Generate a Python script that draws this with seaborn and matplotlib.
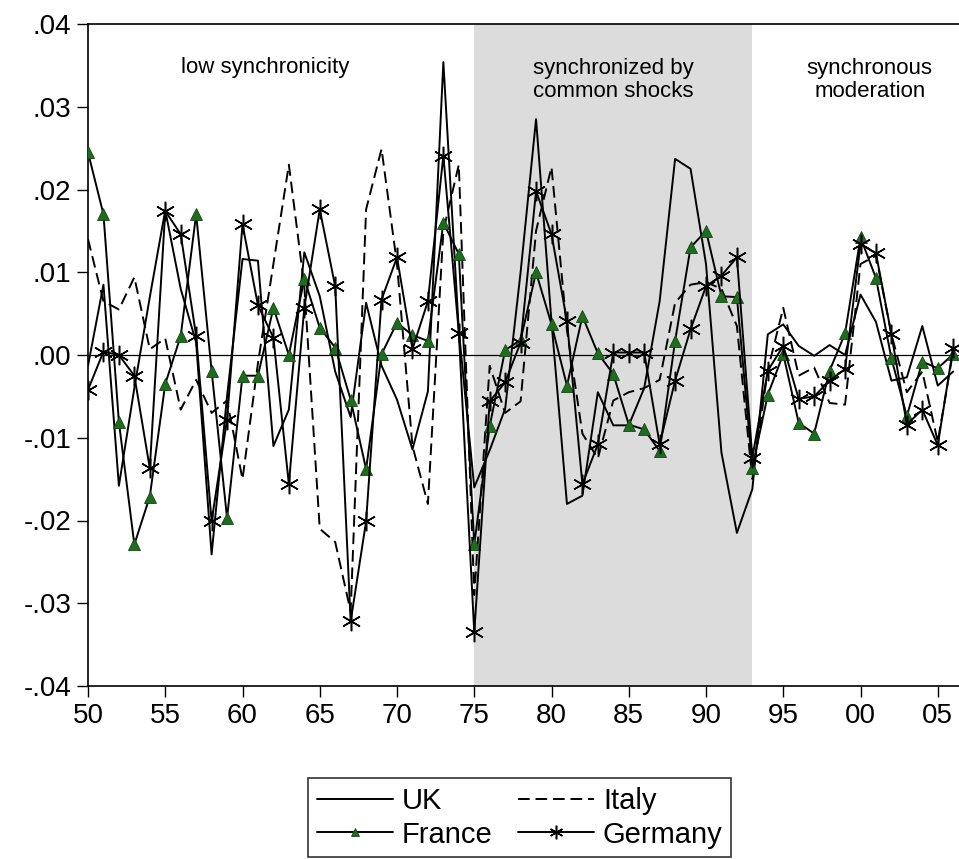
import matplotlib
matplotlib.use("Agg")
import matplotlib.pyplot as plt
import seaborn as sns
import pandas as pd
import numpy as np

years = list(range(1950, 2007))

uk = [-0.0013, 0.0085, -0.0158, -0.004, 0.007, 0.0175, 0.008, 0.0015, -0.0241, -0.005,
      0.0116, 0.0114, -0.011, -0.0066, 0.0124, 0.0071, -0.002, -0.0075, 0.0063, -0.0013,
      -0.0054, -0.0114, -0.0044, 0.0354, 0.003, -0.016, -0.0115, -0.0065, 0.010, 0.0285,
      0.004, -0.018, -0.017, -0.0045, -0.0085, -0.0085, -0.004, 0.0065, 0.0237, 0.0225,
      0.011, -0.0118, -0.0215, -0.0162, 0.0025, 0.0037, 0.0011, -0.0001, 0.0012, 0.0,
      0.0073, 0.004, -0.0031, -0.0027, 0.0035, -0.0037, -0.002]

italy = [0.014, 0.0065, 0.0055, 0.0094, 0.0007, 0.002, -0.0066, -0.003, -0.007, -0.0055,
         -0.015, -0.001, 0.011, 0.023, 0.0083, -0.021, -0.0226, -0.031, 0.0176, 0.0249,
         0.011, -0.011, -0.018, 0.015, 0.023, -0.029, -0.0013, -0.007, -0.0056, 0.015,
         0.0227, 0.003, -0.0095, -0.0125, -0.0055, -0.0045, -0.004, -0.003, 0.0063, 0.0085,
         0.0088, 0.008, 0.0035, -0.015, -0.0018, 0.0057, -0.0025, -0.0015, -0.0058, -0.006,
         0.011, 0.012, 0.0025, -0.0045, -0.002, -0.0105, 0.0005]

france = [0.0245, 0.017, -0.0081, -0.0229, -0.0171, -0.0035, 0.0023, 0.017, -0.0019, -0.0197,
          -0.0025, -0.0025, 0.0057, 0.0, 0.0092, 0.0033, 0.0009, -0.0054, -0.0138, 0.0001,
          0.0039, 0.0024, 0.0017, 0.016, 0.0122, -0.0229, -0.0086, 0.0006, 0.0018, 0.010,
          0.0037, -0.0037, 0.0047, 0.0002, -0.0023, -0.0084, -0.009, -0.0116, 0.0017, 0.013,
          0.015, 0.0071, 0.007, -0.0136, -0.0048, 0.0001, -0.0082, -0.0095, -0.0019, 0.0026,
          0.0142, 0.0093, -0.0004, -0.0074, -0.0008, -0.0016, 0.0001]

germany = [-0.0042, 0.0004, 0.0, -0.0025, -0.0137, 0.0174, 0.0146, 0.0023, -0.0201, -0.0078,
           0.0158, 0.006, 0.0021, -0.0156, 0.0057, 0.0176, 0.0083, -0.0322, -0.0201, 0.0067,
           0.0118, 0.0007, 0.0065, 0.0241, 0.0027, -0.0335, -0.0056, -0.0033, 0.0015, 0.0198,
           0.0146, 0.0041, -0.0156, -0.0108, 0.0003, 0.0003, 0.0003, -0.0108, -0.0031, 0.0031,
           0.0083, 0.0096, 0.0118, -0.0124, -0.0019, 0.0011, -0.0053, -0.005, -0.0031, -0.0017,
           0.0134, 0.0123, 0.0025, -0.0084, -0.0066, -0.0109, 0.0009]

xtick_years = list(range(1950, 2006, 5))
xtick_labels = ["50", "55", "60", "65", "70", "75", "80", "85", "90", "95", "00", "05"]
ytick_vals = [0.04, 0.03, 0.02, 0.01, 0.0, -0.01, -0.02, -0.03, -0.04]
ytick_labels = [".04", ".03", ".02", ".01", ".00", "-.01", "-.02", "-.03", "-.04"]

sns.set_style("white")
plt.rcParams['font.family'] = ['Liberation Sans', 'DejaVu Sans']
plt.rcParams['text.color'] = 'black'
plt.rcParams['xtick.color'] = 'black'
plt.rcParams['ytick.color'] = 'black'

fig = plt.figure(figsize=(9.59, 8.59), dpi=100)
ax = fig.add_axes([88/959, (859-686)/859, (959-88)/959, 662/859])

ax.axvspan(1975, 1993, color="#dcdcdc", zorder=0, lw=0)
ax.axhline(0, color="black", lw=0.9, zorder=1)

df = pd.DataFrame({"year": years, "UK": uk, "Italy": italy, "France": france, "Germany": germany})

green = "#1f6b1f"
sns.lineplot(data=df, x="year", y="UK", ax=ax, color="black", lw=1.4, label="UK", zorder=3)
sns.lineplot(data=df, x="year", y="Italy", ax=ax, color="black", lw=1.4,
             linestyle=(0, (6, 3)), label="Italy", zorder=3)
sns.lineplot(data=df, x="year", y="France", ax=ax, color="black", lw=1.4, marker="^",
             markersize=9, markerfacecolor=green, markeredgecolor="#0f4a0f", markeredgewidth=0.6,
             label="France", zorder=4)
sns.lineplot(data=df, x="year", y="Germany", ax=ax, color="black", lw=1.4, marker=(6, 2, 0),
             markersize=14, markeredgecolor="black", markeredgewidth=1.1,
             label="Germany", zorder=4)

ax.set_xlim(1950, 1950 + (959 - 88) / 15.45)
ax.set_ylim(-0.04, 0.04)
ax.set_xticks(xtick_years)
ax.set_xticklabels(xtick_labels, fontsize=20)
ax.set_yticks(ytick_vals)
ax.set_yticklabels(ytick_labels, fontsize=20)
ax.set_xlabel("")
ax.set_ylabel("")
ax.tick_params(axis="both", direction="out", length=8, width=1, color="black", pad=4,
               bottom=True, left=True, labelcolor="black")
for s in ["left", "bottom", "top"]:
    ax.spines[s].set_color("black")
    ax.spines[s].set_linewidth(1.2)
ax.spines["right"].set_visible(False)
ax.grid(False)

ax.text(1961.5, 0.0348, "low synchronicity", fontsize=16, ha="center", va="center", color="black")
ax.text(1984.0, 0.0332, "synchronized by\ncommon shocks", fontsize=16, ha="center", va="center",
        linespacing=1.15, color="black")
ax.text(2000.6, 0.0332, "synchronous\nmoderation", fontsize=16, ha="center", va="center",
        linespacing=1.15, color="black")

ax.get_legend().remove()
handles, labels = ax.get_legend_handles_labels()
order = [0, 2, 1, 3]
leg = fig.legend([handles[i] for i in order], [labels[i] for i in order],
                 loc="upper left", bbox_to_anchor=(308/959, 1 - 778/859), borderaxespad=0,
                 ncol=2, fontsize=21, frameon=True, fancybox=False, edgecolor="black",
                 handlelength=2.6, columnspacing=0.9, handletextpad=0.3, labelspacing=0.2,
                 borderpad=0.3, markerscale=0.7)
leg.get_frame().set_linewidth(1.2)
for t in leg.get_texts():
    t.set_color("black")

fig.savefig("out.png", dpi=100)
